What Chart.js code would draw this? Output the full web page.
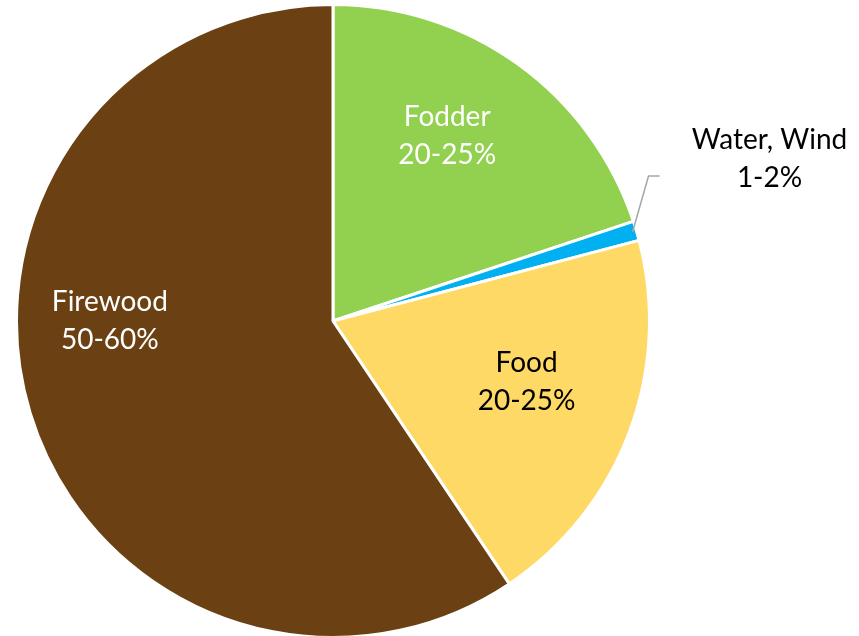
<!DOCTYPE html>
<html>
<head>
<meta charset="utf-8">
<script src="https://cdn.jsdelivr.net/npm/chart.js@4.4.0/dist/chart.umd.min.js"></script>
<style>
  html, body { margin: 0; padding: 0; background: #ffffff; overflow: hidden; }
  #wrap { position: relative; width: 859px; height: 639px; }
</style>
</head>
<body>
<div id="wrap"><canvas id="pie"></canvas></div>
<script>
// Share of forest use, clockwise from 12 o'clock
const categories = ['Fodder', 'Water, Wind', 'Food', 'Firewood'];
const shares = [19.9, 1.0, 19.7, 59.4];
const rangeLabels = ['20-25%', '1-2%', '20-25%', '50-60%'];
const sliceColors = ['#92D050', '#00B0F0', '#FFD966', '#6B4113'];
const labelColors = ['#ffffff', '#000000', '#000000', '#ffffff'];

// label placement inside each slice: fraction along the slice's sweep, fraction of radius
const labelPlacement = [
  { t: 0.44, f: 0.69 },
  null,
  { t: 0.45, f: 0.64 },
  { t: 0.58, f: 0.705 }
];

const FONT_SIZE = 28;
const FONT = FONT_SIZE + 'px Lato, "Open Sans", sans-serif';
const LINE_GAP = 38;
const CAP_HALF = FONT_SIZE * 0.717 / 2;

function drawTwoLines(ctx, top, bottom, cx, cy) {
  ctx.fillText(top, cx, cy - LINE_GAP / 2 + CAP_HALF);
  ctx.fillText(bottom, cx, cy + LINE_GAP / 2 + CAP_HALF);
}

const sliceLabels = {
  id: 'sliceLabels',
  afterDatasetsDraw(chart) {
    const ctx = chart.ctx;
    const arcs = chart.getDatasetMeta(0).data;
    ctx.save();
    ctx.font = FONT;
    ctx.textAlign = 'center';
    ctx.textBaseline = 'alphabetic';
    arcs.forEach((arc, i) => {
      const p = arc.getProps(['x', 'y', 'startAngle', 'endAngle', 'outerRadius'], true);
      const place = labelPlacement[i];
      if (place) {
        const a = p.startAngle + place.t * (p.endAngle - p.startAngle);
        const r = place.f * p.outerRadius;
        ctx.fillStyle = labelColors[i];
        drawTwoLines(ctx, categories[i], rangeLabels[i],
          p.x + Math.cos(a) * r, p.y + Math.sin(a) * r);
      } else {
        // callout label with a leader line for the thin slice
        const a = (p.startAngle + p.endAngle) / 2;
        const ex = p.x + Math.cos(a) * (p.outerRadius - 4);
        const ey = p.y + Math.sin(a) * (p.outerRadius - 4);
        const kx = ex + 16, ky = ey - 56;
        ctx.strokeStyle = '#A6A6A6';
        ctx.lineWidth = 1.5;
        ctx.beginPath();
        ctx.moveTo(ex, ey);
        ctx.lineTo(kx, ky);
        ctx.lineTo(kx + 11, ky);
        ctx.stroke();
        ctx.fillStyle = labelColors[i];
        drawTwoLines(ctx, categories[i], rangeLabels[i], kx + 121, ky - 18);
      }
    });
    ctx.restore();
  }
};

new Chart(document.getElementById('pie'), {
  type: 'pie',
  data: {
    labels: categories,
    datasets: [{
      data: shares,
      backgroundColor: sliceColors,
      borderColor: '#ffffff',
      borderWidth: 3
    }]
  },
  options: {
    responsive: true,
    maintainAspectRatio: false,
    animation: false,
    layout: { padding: { left: 15, right: 208, top: 3, bottom: 0 } },
    plugins: {
      legend: { display: false },
      tooltip: { enabled: false }
    }
  },
  plugins: [sliceLabels]
});
</script>
</body>
</html>
